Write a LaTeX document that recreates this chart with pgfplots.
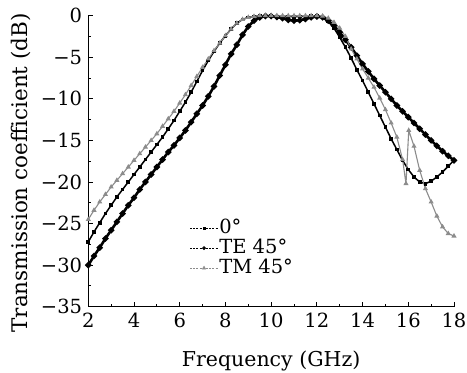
\documentclass[border=0pt]{standalone}
\usepackage{fontspec}
\setmainfont{DejaVu Serif}
\usepackage{pgfplots}
\usepackage{pgfplotstable}
\pgfplotsset{compat=1.18}
\definecolor{tmgray}{gray}{0.55}

\pgfplotstableread{
x y
2.00 -27.2
2.25 -26.0
2.50 -24.9
2.75 -23.8
3.00 -22.8
3.25 -21.8
3.50 -20.9
3.75 -20.0
4.00 -19.1
4.25 -18.2
4.50 -17.3
4.75 -16.4
5.00 -15.5
5.25 -14.6
5.50 -13.6
5.75 -12.6
6.00 -11.5
6.25 -10.4
6.50 -9.2
6.75 -7.9
7.00 -6.6
7.25 -5.4
7.50 -4.3
7.75 -3.3
8.00 -2.4
8.25 -1.6
8.50 -0.9
8.75 -0.45
9.00 -0.2
9.25 -0.08
9.50 -0.03
9.75 -0.05
10.00 -0.06
10.25 -0.08
10.50 -0.1
10.75 -0.12
11.00 -0.12
11.25 -0.1
11.50 -0.08
11.75 -0.05
12.00 -0.05
12.25 -0.2
12.50 -0.7
12.75 -1.5
13.00 -2.6
13.25 -3.8
13.50 -5.1
13.75 -6.5
14.00 -7.8
14.25 -9.2
14.50 -10.6
14.75 -12.0
15.00 -13.4
15.25 -14.8
15.50 -16.1
15.75 -17.4
16.00 -18.5
16.25 -19.4
16.50 -20.0
16.75 -20.2
17.00 -19.9
17.25 -19.4
17.50 -18.8
17.75 -18.1
18.00 -17.4
}\tabZero

\pgfplotstableread{
x y
2.00 -30.0
2.25 -28.9
2.50 -27.9
2.75 -26.8
3.00 -25.8
3.25 -24.8
3.50 -23.8
3.75 -22.8
4.00 -21.9
4.25 -20.9
4.50 -20.0
4.75 -19.1
5.00 -18.2
5.25 -17.3
5.50 -16.4
5.75 -15.6
6.00 -14.7
6.25 -13.8
6.50 -12.8
6.75 -11.8
7.00 -10.8
7.25 -9.7
7.50 -8.5
7.75 -7.2
8.00 -5.9
8.25 -4.6
8.50 -3.5
8.75 -2.3
9.00 -1.3
9.25 -0.6
9.50 -0.2
9.75 -0.05
10.00 -0.05
10.25 -0.15
10.50 -0.3
10.75 -0.5
11.00 -0.6
11.25 -0.55
11.50 -0.4
11.75 -0.2
12.00 -0.1
12.25 -0.2
12.50 -0.6
12.75 -1.2
13.00 -2.0
13.25 -2.9
13.50 -3.8
13.75 -4.8
14.00 -5.8
14.25 -6.7
14.50 -7.6
14.75 -8.4
15.00 -9.2
15.25 -10.0
15.50 -10.8
15.75 -11.5
16.00 -12.2
16.25 -12.9
16.50 -13.6
16.75 -14.3
17.00 -15.0
17.25 -15.65
17.50 -16.3
17.75 -16.85
18.00 -17.4
}\tabTE

\pgfplotstableread{
x y
2.00 -24.5
2.25 -23.4
2.50 -22.4
2.75 -21.5
3.00 -20.6
3.25 -19.8
3.50 -19.0
3.75 -18.2
4.00 -17.4
4.25 -16.6
4.50 -15.8
4.75 -15.0
5.00 -14.2
5.25 -13.3
5.50 -12.4
5.75 -11.5
6.00 -10.5
6.25 -9.5
6.50 -8.4
6.75 -7.3
7.00 -6.2
7.25 -5.2
7.50 -4.2
7.75 -3.3
8.00 -2.4
8.25 -1.6
8.50 -0.9
8.75 -0.45
9.00 -0.2
9.25 -0.08
9.50 0
9.75 0
10.00 0
10.25 0
10.50 0
10.75 0
11.00 0
11.25 0
11.50 0
11.75 0
12.00 0
12.25 -0.05
12.50 -0.3
12.75 -0.8
13.00 -1.5
13.25 -2.5
13.50 -4.0
13.75 -5.2
14.00 -6.4
14.25 -7.5
14.50 -8.6
14.75 -9.9
15.00 -11.3
15.25 -12.9
15.50 -14.6
15.75 -17.3
15.90 -20.2
16.02 -13.8
16.25 -15.7
16.50 -18.6
16.75 -20.8
17.00 -22.4
17.25 -24.1
17.50 -25.4
17.75 -26.2
18.00 -26.5
}\tabTM

\begin{document}
\begin{tikzpicture}
\begin{axis}[
  at={(0pt,0pt)}, anchor=south west,
  scale only axis, width=365.7pt, height=291pt,
  xmin=2, xmax=18, ymin=-35, ymax=0,
  clip=false,
  axis x line*=bottom, axis y line*=left,
  axis line style={line width=1.1pt, -},
  xtick={2,4,...,18}, ytick={-35,-30,...,0},
  xticklabels={2,4,6,8,10,12,14,16,18},
  yticklabels={−35,−30,−25,−20,−15,−10,−5,0},
  minor x tick num=1, minor y tick num=1,
  tick align=inside,
  major tick length=5pt, minor tick length=3pt,
  every tick/.style={line width=0.9pt, black},
  tick label style={font=\fontsize{19.5}{23}\selectfont},
  xticklabel style={inner sep=0pt, yshift=-6pt},
  yticklabel style={inner sep=0pt, xshift=-6pt},
  xlabel={Frequency (GHz)},
  ylabel={Transmission coefficient (dB)},
  xlabel style={font=\fontsize{20.5}{24}\selectfont, at={(axis description cs:0.5,-0.207)}, anchor=base},
  ylabel style={font=\fontsize{21.5}{25}\selectfont, at={(axis description cs:-0.165,0.46)}, anchor=base, rotate=0},
  legend style={draw=none, fill=none, at={(axis cs:6.3,-24.2)}, anchor=north west,
    font=\fontsize{19.5}{23}\selectfont, row sep=2pt,
    nodes={inner sep=1pt, text height=13.5pt, text depth=2.5pt}},
  legend cell align=left,
  legend image code/.code={\draw[mark repeat=2,mark phase=2,#1] plot coordinates {(0pt,0pt)(14pt,0pt)(28pt,0pt)};},
  legend image post style={line width=0.5pt, dash pattern=on 2pt off 1.2pt},
]
\addplot[black, line width=1.5pt, mark=square*, mark size=1.1pt, mark options={solid, fill=black}] table[x=x,y=y] {\tabZero};
\addlegendentry{0°}
\addplot[black, line width=2.6pt, mark=*, mark size=1.6pt, mark options={solid, fill=black}] table[x=x,y=y] {\tabTE};
\addlegendentry{TE 45°}
\addplot[tmgray, line width=1.1pt, mark=triangle*, mark size=1.9pt, mark options={solid, fill=tmgray}] table[x=x,y=y] {\tabTM};
\addlegendentry{TM 45°}
\end{axis}
\pgfresetboundingbox
\useasboundingbox (-88.3pt,-66.3pt) rectangle (378.7pt,306.7pt);
\end{tikzpicture}
\end{document}
